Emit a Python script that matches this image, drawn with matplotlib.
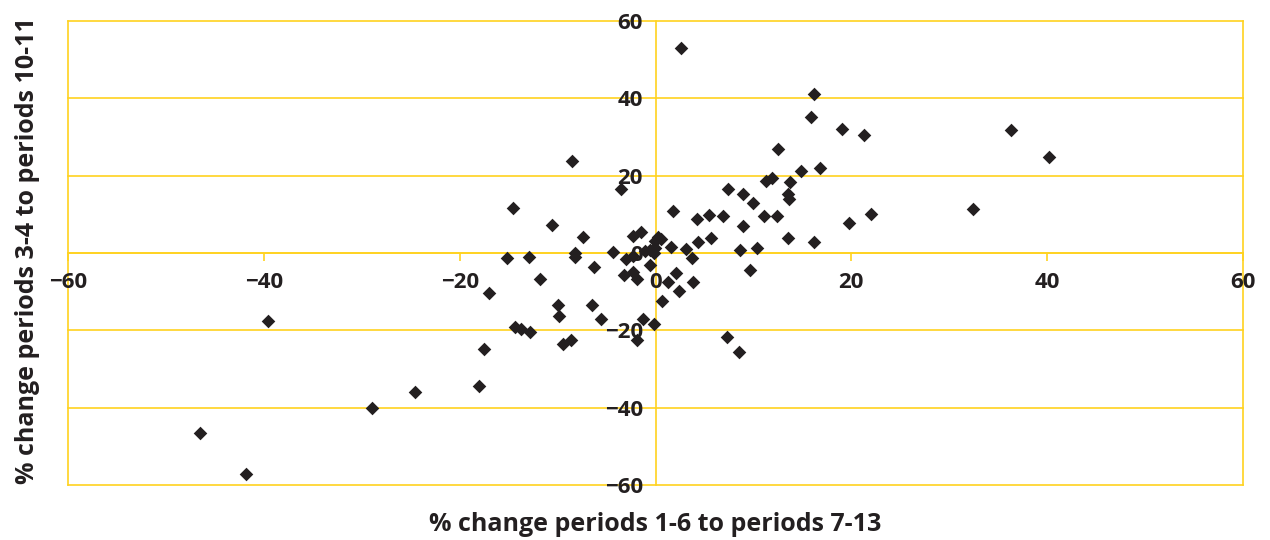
import matplotlib
matplotlib.use("Agg")
import matplotlib.pyplot as plt

# % change periods 1-6 to periods 7-13
x_change = [
    -46.5, -41.8, -39.6, -29.0, -24.6, -18.0, -17.5, -17.0,
    -8.5, -14.6, -10.6, -15.2, -12.9, -8.2, -8.2, -11.8,
    -10.0, -9.9, -14.4, -13.7, -12.8, -9.4, -8.6,
    -3.5, 1.8, 4.2, -7.4, -2.3, -1.5, 0.3, 0.6, -0.05,
    1.6, 3.1, 4.3, -4.3, -3.0, -2.3, -1.1, -0.6, -0.2, -0.05,
    3.7, -6.3, -0.6, -3.2, -2.3, -1.9, 2.1, 1.3, 3.8, 2.4, 0.7,
    -6.5, -5.6, -1.3, -0.2, -1.9,
    7.4, 8.9, 10.0, 5.5, 6.9, 8.9, 5.7, 8.6, 9.6, 10.4, 7.3, 8.5,
    16.2, 15.9, 19.0, 21.3, 12.5, 14.9, 16.8, 11.3, 11.9, 13.7,
    13.5, 13.6, 11.1, 12.4, 19.8, 22.0, 13.5, 16.2,
    2.6, 36.3, 40.2, 32.4,
]
# % change periods 3-4 to periods 10-11
y_change = [
    -46.5, -57.1, -17.6, -40.1, -35.9, -34.4, -24.8, -10.3,
    23.7, 11.6, 7.2, -1.2, -1.0, 0.1, -1.1, -6.7,
    -13.4, -16.2, -19.1, -19.7, -20.5, -23.5, -22.5,
    16.5, 10.8, 8.7, 4.1, 4.3, 5.4, 4.2, 3.5, 3.1,
    1.6, 1.0, 2.8, 0.2, -1.5, -0.7, 0.6, 0.8, -0.1, 1.2,
    -1.2, -3.5, -3.2, -5.7, -5.0, -6.7, -5.3, -7.4, -7.6, -9.8, -12.3,
    -13.4, -17.0, -17.0, -18.4, -22.5,
    16.5, 15.2, 13.0, 9.7, 9.5, 7.1, 3.9, 0.8, -4.4, 1.2, -21.7, -25.6,
    41.1, 35.2, 32.1, 30.4, 26.9, 21.3, 22.1, 18.6, 19.5, 18.4,
    15.3, 13.9, 9.6, 9.6, 7.7, 10.0, 4.0, 2.8,
    53.1, 31.9, 24.7, 11.5,
]
tick_values = [-60, -40, -20, 0, 20, 40, 60]
x_label = "% change periods 1-6 to periods 7-13"
y_label = "% change periods 3-4 to periods 10-11"

GOLD = "#FFD21F"
INK = "#231F20"

plt.rcParams["font.family"] = ["Open Sans", "DejaVu Sans"]

fig = plt.figure(figsize=(12.7, 5.4), dpi=100)
ax = fig.add_axes([68 / 1270, 1 - 485 / 540, 1175 / 1270, 464 / 540])

ax.set_xlim(-60, 60)
ax.set_ylim(-60, 60)
ax.set_xticks(tick_values)
ax.set_yticks(tick_values)

# horizontal gridlines and frame
for v in tick_values:
    ax.axhline(v, color=GOLD, lw=1.2, zorder=1, clip_on=False)
ax.axvline(-60, color=GOLD, lw=1.2, zorder=1, clip_on=False)
ax.axvline(60, color=GOLD, lw=1.2, zorder=1, clip_on=False)

for s in ["top", "right"]:
    ax.spines[s].set_visible(False)
ax.spines["left"].set_position(("data", 0))
ax.spines["bottom"].set_position(("data", 0))
for s in ["left", "bottom"]:
    ax.spines[s].set_color(GOLD)
    ax.spines[s].set_linewidth(1.2)
    ax.spines[s].set_zorder(1)

ax.tick_params(axis="x", direction="out", length=6, width=1.2, color=GOLD,
               pad=8, labelsize=16, labelcolor=INK)
ax.tick_params(axis="y", direction="out", length=0, width=1.2, color=GOLD,
               pad=9, labelsize=16, labelcolor=INK)
for lab in ax.get_xticklabels() + ax.get_yticklabels():
    lab.set_fontweight("bold")

ax.scatter(x_change, y_change, marker="D", s=48, color=INK, linewidths=0, zorder=3)

ax.set_xlabel(x_label, fontsize=18, fontweight="bold", color=INK)
ax.set_ylabel(y_label, fontsize=18, fontweight="bold", color=INK)
ax.xaxis.set_label_coords(0.5, -0.058)
ax.yaxis.set_label_coords(-0.024, 0.505)

fig.savefig("out.png", dpi=100)
